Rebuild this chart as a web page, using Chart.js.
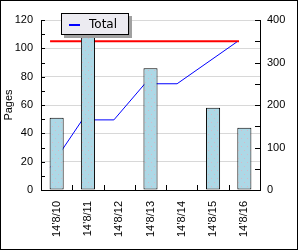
<!DOCTYPE html>
<html>
<head>
<meta charset="utf-8">
<script src="https://cdn.jsdelivr.net/npm/chart.js@4/dist/chart.umd.min.js"></script>
<style>
    body { margin: 0; background: #fff; }
    #wrap { position: relative; width: 300px; height: 250px; }
    #legend {
        position: absolute; left: 61px; top: 13px; width: 66px; height: 20px;
        background: #ecebf1; border: 1px solid #000; box-shadow: 3px 3px 0 #a0a0a0;
        font: 12px 'DejaVu Sans', sans-serif; color: #000;
    }
    #legend .swatch { position: absolute; left: 7px; top: 10px; width: 11px; height: 2px; background: #0000ff; }
    #legend .label { position: absolute; left: 27px; top: 3px; }
</style>
</head>
<body>
<div id="wrap">
    <canvas id="chart" width="300" height="250"></canvas>
    <div id="legend"><span class="swatch"></span><span class="label">Total</span></div>
</div>
<script>
// Data
const categories = ['14’8/10', '14’8/11', '14’8/12', '14’8/13', '14’8/14', '14’8/15', '14’8/16'];
const pages = [51, 125, null, 86, null, 58, 44];
// Total line: x is measured in category widths from the left edge of the plot
const totalX = [0.3, 1.32, 2.33, 3.32, 4.35, 6.26];
const totalY = [16, 49.5, 49.5, 75, 75, 104.5];
const limitX = [0.29, 6.33];
const limitY = [105, 105];
const leftTicks = [0, 20, 40, 60, 80, 100, 120];
const rightTicks = [0, 100, 200, 300, 400];

const font = { family: "'Liberation Sans', Arial, sans-serif", size: 11 };
Chart.defaults.color = '#000';

// light blue fill with faint dots, like the original bars
function barPattern() {
    const c = document.createElement('canvas');
    c.width = 6; c.height = 8;
    const g = c.getContext('2d');
    g.fillStyle = '#add8e6';
    g.fillRect(0, 0, 6, 8);
    g.fillStyle = '#d6b9c8';
    g.fillRect(1, 2, 1, 1);
    g.fillRect(4, 6, 1, 1);
    return g.createPattern(c, 'repeat');
}

// inward tick marks and outer frame
const ticksPlugin = {
    id: 'inwardTicks',
    afterDraw(chart) {
        const ctx = chart.ctx;
        const a = chart.chartArea;
        const y = chart.scales.y, y1 = chart.scales.y1, x = chart.scales.x;
        ctx.save();
        ctx.strokeStyle = '#000';
        ctx.lineWidth = 1;
        ctx.beginPath();
        for (let v = 0; v <= 120; v += 10) {
            const py = Math.round(y.getPixelForValue(v)) + 0.5;
            ctx.moveTo(a.left, py); ctx.lineTo(a.left + 4, py);
        }
        for (let v = 0; v <= 400; v += 50) {
            const py = Math.round(y1.getPixelForValue(v)) + 0.5;
            ctx.moveTo(a.right, py); ctx.lineTo(a.right - 5, py);
        }
        for (let i = 0; i <= categories.length; i++) {
            const px = Math.round(x.getPixelForValue(i - 0.5)) + 0.5;
            ctx.moveTo(px, a.bottom); ctx.lineTo(px, a.bottom - 5);
        }
        ctx.stroke();
        ctx.strokeRect(0.5, 0.5, 297, 249);
        ctx.restore();
    }
};

new Chart(document.getElementById('chart'), {
    type: 'bar',
    data: {
        labels: categories,
        datasets: [
            {
                type: 'bar',
                label: 'Pages',
                data: pages,
                yAxisID: 'y',
                xAxisID: 'x',
                backgroundColor: barPattern(),
                borderColor: '#000',
                borderWidth: 1,
                borderSkipped: false,
                grouped: false,
                barPercentage: 0.45,
                categoryPercentage: 1,
                order: 0
            },
            {
                type: 'line',
                label: 'Total',
                data: totalX.map((v, i) => ({ x: v, y: totalY[i] })),
                xAxisID: 'x2',
                yAxisID: 'y',
                borderColor: '#0000ff',
                borderWidth: 1,
                pointRadius: 0,
                tension: 0,
                order: 1
            },
            {
                type: 'line',
                label: 'Limit',
                data: limitX.map((v, i) => ({ x: v, y: limitY[i] })),
                xAxisID: 'x2',
                yAxisID: 'y',
                borderColor: '#ff0000',
                borderWidth: 2,
                pointRadius: 0,
                order: 2
            }
        ]
    },
    options: {
        responsive: false,
        animation: false,
        layout: { padding: { top: 20, left: 0, right: 0, bottom: 0 } },
        plugins: { legend: { display: false }, tooltip: { enabled: false } },
        scales: {
            x: {
                type: 'category',
                offset: true,
                grid: { display: false, drawTicks: false },
                border: { color: '#000', width: 1 },
                ticks: { font: font, minRotation: 90, maxRotation: 90, padding: 11 },
                afterFit: s => { s.height = 60; }
            },
            x2: {
                type: 'linear',
                display: false,
                offset: false,
                grid: { offset: false },
                min: 0,
                max: categories.length
            },
            y: {
                position: 'left',
                min: 0,
                max: 120,
                grid: { color: '#d8d8d8', drawTicks: false },
                border: { color: '#000', width: 1 },
                ticks: { font: font, stepSize: 20, padding: 8 },
                afterBuildTicks: s => { s.ticks = leftTicks.map(v => ({ value: v })); },
                title: { display: true, text: 'Pages', font: font, padding: { top: 2, bottom: 0 } },
                afterFit: s => { s.width = 41; }
            },
            y1: {
                position: 'right',
                min: 0,
                max: 400,
                grid: { display: false, drawTicks: false },
                border: { color: '#000', width: 1 },
                ticks: { font: font, stepSize: 100, padding: 7 },
                afterBuildTicks: s => { s.ticks = rightTicks.map(v => ({ value: v })); },
                afterFit: s => { s.width = 40; }
            }
        }
    },
    plugins: [ticksPlugin]
});
</script>
</body>
</html>
